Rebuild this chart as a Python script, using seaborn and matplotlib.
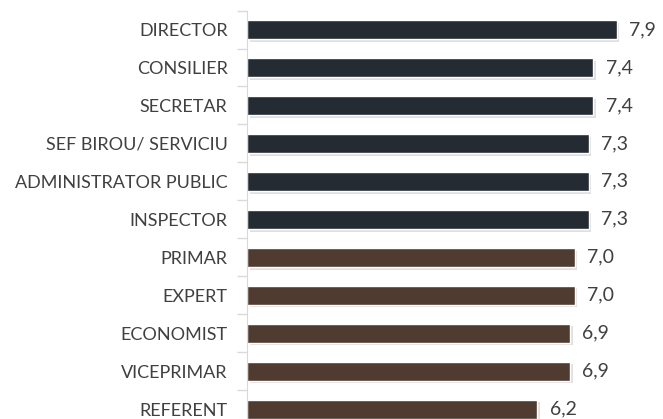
import matplotlib
matplotlib.use("Agg")
import matplotlib.pyplot as plt
import matplotlib.patheffects as pe
import seaborn as sns
import pandas as pd
import numpy as np

# chart data
categories = ["DIRECTOR", "CONSILIER", "SECRETAR", "SEF BIROU/ SERVICIU",
              "ADMINISTRATOR PUBLIC", "INSPECTOR", "PRIMAR", "EXPERT",
              "ECONOMIST", "VICEPRIMAR", "REFERENT"]
values = [7.9, 7.4, 7.4, 7.3, 7.3, 7.3, 7.0, 7.0, 6.9, 6.9, 6.2]
groups = ["top"] * 6 + ["rest"] * 5
group_colors = {"top": "#222a36", "rest": "#54392b"}

df = pd.DataFrame({"Functie": categories, "Scor": values, "Grup": groups})

sns.set_style("white")
plt.rcParams["font.family"] = ["Lato", "DejaVu Sans"]

fig = plt.figure(figsize=(6.63, 4.19), dpi=100)
ax = fig.add_axes([247 / 663, -9 / 419, 416 / 663, 417.4 / 419])

sns.barplot(data=df, x="Scor", y="Functie", hue="Grup", palette=group_colors,
            dodge=False, width=0.5, legend=False, ax=ax)

# soft shadow like the original
for bar in ax.patches:
    bar.set_path_effects([pe.SimplePatchShadow(offset=(2, -2), shadow_rgbFace="#999999", alpha=0.3),
                          pe.Normal()])

for cont in ax.containers:
    ax.bar_label(cont, labels=[f"{v:.1f}".replace(".", ",") for v in cont.datavalues],
                 padding=9, fontsize=14, color="#404040")

ax.set_xlim(0, 416 / 46.8)
ax.set_ylim(len(categories) - 0.5, -0.5)
ax.set_xlabel("")
ax.set_ylabel("")
ax.set_xticks([])

# category-boundary ticks on the axis
ax.set_yticks(np.arange(len(categories) + 1) - 0.5, minor=True)
ax.tick_params(axis="y", which="minor", length=7, color="#d9d9d9", width=1, left=True)
ax.tick_params(axis="y", which="major", length=0, pad=14, labelsize=13, labelcolor="#404040")

for s in ["top", "right", "bottom"]:
    ax.spines[s].set_visible(False)
ax.spines["left"].set_color("#d9d9d9")

fig.savefig("out.png", dpi=100)
